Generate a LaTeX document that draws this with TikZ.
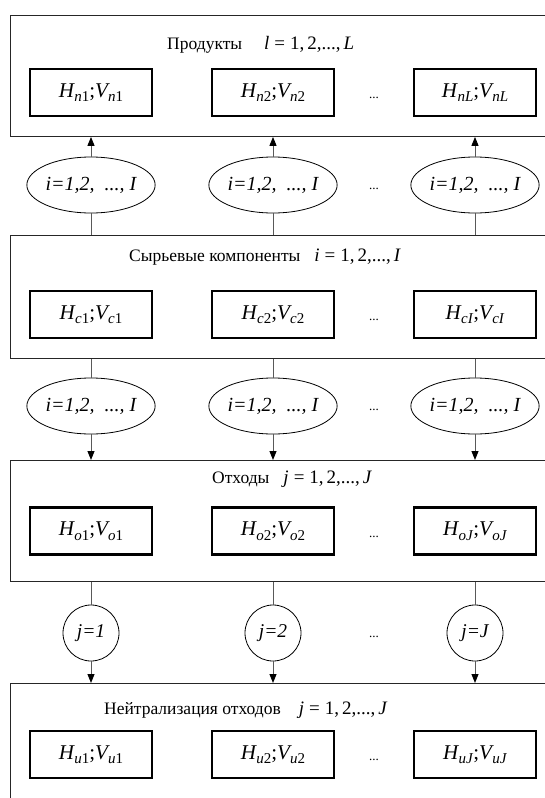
\documentclass[tikz,border=0pt]{standalone}
\usepackage{fontspec}
\setmainfont{Liberation Serif}
\usetikzlibrary{arrows.meta,shapes.geometric}
\newcommand\lsub[2]{\lower4.4pt\hbox{\fontsize{15}{15}\selectfont\itshape #1\upshape #2}}
\newcommand\hv[2]{\textit{H}\kern-0.5pt\lsub{#1}{#2};\textit{V}\kern-1.8pt\lsub{#1}{#2}}
\newcommand\rng[2]{{\fontsize{19}{20}\selectfont\textit{#1}\hspace{5pt}=\hspace{5pt}1,\hspace{3pt}2,...,\hspace{3pt}\textit{#2}}}
\tikzset{
  outer/.style={draw=black!85, line width=0.9pt, inner sep=0pt, anchor=north west, minimum width=560pt},
  cell/.style={draw, line width=2.6pt, minimum width=122pt, minimum height=47pt, inner sep=0pt, font=\fontsize{21}{24}\selectfont},
  oval/.style={draw, ellipse, line width=0.8pt, minimum width=122pt, minimum height=56pt, inner sep=0pt, font=\fontsize{20}{22}\selectfont\itshape},
  circ/.style={draw, circle, line width=0.8pt, minimum size=56pt, inner sep=0pt, font=\fontsize{19.5}{22}\selectfont\itshape},
  ttl/.style={anchor=west, inner sep=0pt, font=\fontsize{17.5}{20}\selectfont},
  dots/.style={inner sep=0pt, font=\fontsize{13}{14}\selectfont},
  link/.style={draw=black!65, line width=1pt},
  arr/.style={link, -{Triangle[length=9pt,width=7pt,color=black]}}
}
\begin{document}
\begin{tikzpicture}[x=1pt,y=-1pt]
\useasboundingbox (0,0) rectangle (545,798);
\clip (0,0) rectangle (545,798);
% outer boxes
\node[outer, minimum height=121pt] (B1) at (10,15) {};
\node[outer, minimum height=123pt] (B2) at (10,235) {};
\node[outer, minimum height=121pt] (B3) at (10,460) {};
\node[outer, minimum height=130pt] (B4) at (10,683) {};
% titles
\node[ttl] (T1) at (167,45) {Продукты\hspace{22pt}\rng{l}{L}};
\node[ttl] (T2) at (129,257) {Сырьевые компоненты\hspace{14pt}\rng{i}{I}};
\node[ttl] (T3) at (212,479) {Отходы\hspace{14pt}\rng{j}{J}};
\node[ttl] (T4) at (104,710) {Нейтрализация отходов\hspace{18pt}\rng{j}{J}};
% row 1
\node[cell] (n1) at (91,92.5) {\hv{n}{1}};
\node[cell] (n2) at (273,92.5) {\hv{n}{2}};
\node[cell] (nL) at (475,92.5) {\hv{n}{\textit{L}}};
\node[dots] (dn) at (374,98) {...};
% row 2
\node[cell] (c1) at (91,314.5) {\hv{c}{1}};
\node[cell] (c2) at (273,314.5) {\hv{c}{2}};
\node[cell] (cI) at (475,314.5) {\hv{c}{\textit{I}}};
\node[dots] (dc) at (374,320) {...};
% row 3
\node[cell] (o1) at (91,531) {\hv{o}{1}};
\node[cell] (o2) at (273,531) {\hv{o}{2}};
\node[cell] (oJ) at (475,531) {\hv{o}{\textit{J}}};
\node[dots] (do) at (374,537) {...};
% row 4
\node[cell] (u1) at (91,754.5) {\hv{u}{1}};
\node[cell] (u2) at (273,754.5) {\hv{u}{2}};
\node[cell] (uJ) at (475,754.5) {\hv{u}{\textit{J}}};
\node[dots] (du) at (374,760) {...};
% ellipses row 1
\node[oval] (e11) at (91,185) {i=1,2,\ \ ...,\ I};
\node[oval] (e12) at (273,185) {i=1,2,\ \ ...,\ I};
\node[oval] (e13) at (475,185) {i=1,2,\ \ ...,\ I};
\node[dots] (de1) at (374,189) {...};
% ellipses row 2
\node[oval] (e21) at (91,406) {i=1,2,\ \ ...,\ I};
\node[oval] (e22) at (273,406) {i=1,2,\ \ ...,\ I};
\node[oval] (e23) at (475,406) {i=1,2,\ \ ...,\ I};
\node[dots] (de2) at (374,410) {...};
% circles
\node[circ] (k1) at (91,633) {j=1};
\node[circ] (k2) at (273,633) {j=2};
\node[circ] (k3) at (475,633) {j=J};
\node[dots] (dk) at (374,637) {...};
% connectors
\foreach \e in {e11,e12,e13}{
  \draw[arr] (\e.north) -- (\e.north |- B1.south);
  \draw[link] (\e.south |- B2.north) -- (\e.south);
}
\foreach \e in {e21,e22,e23}{
  \draw[link] (\e.north |- B2.south) -- (\e.north);
  \draw[arr] (\e.south) -- (\e.south |- B3.north);
}
\foreach \e in {k1,k2,k3}{
  \draw[link] (\e.north |- B3.south) -- (\e.north);
  \draw[arr] (\e.south) -- (\e.south |- B4.north);
}
\end{tikzpicture}
\end{document}
